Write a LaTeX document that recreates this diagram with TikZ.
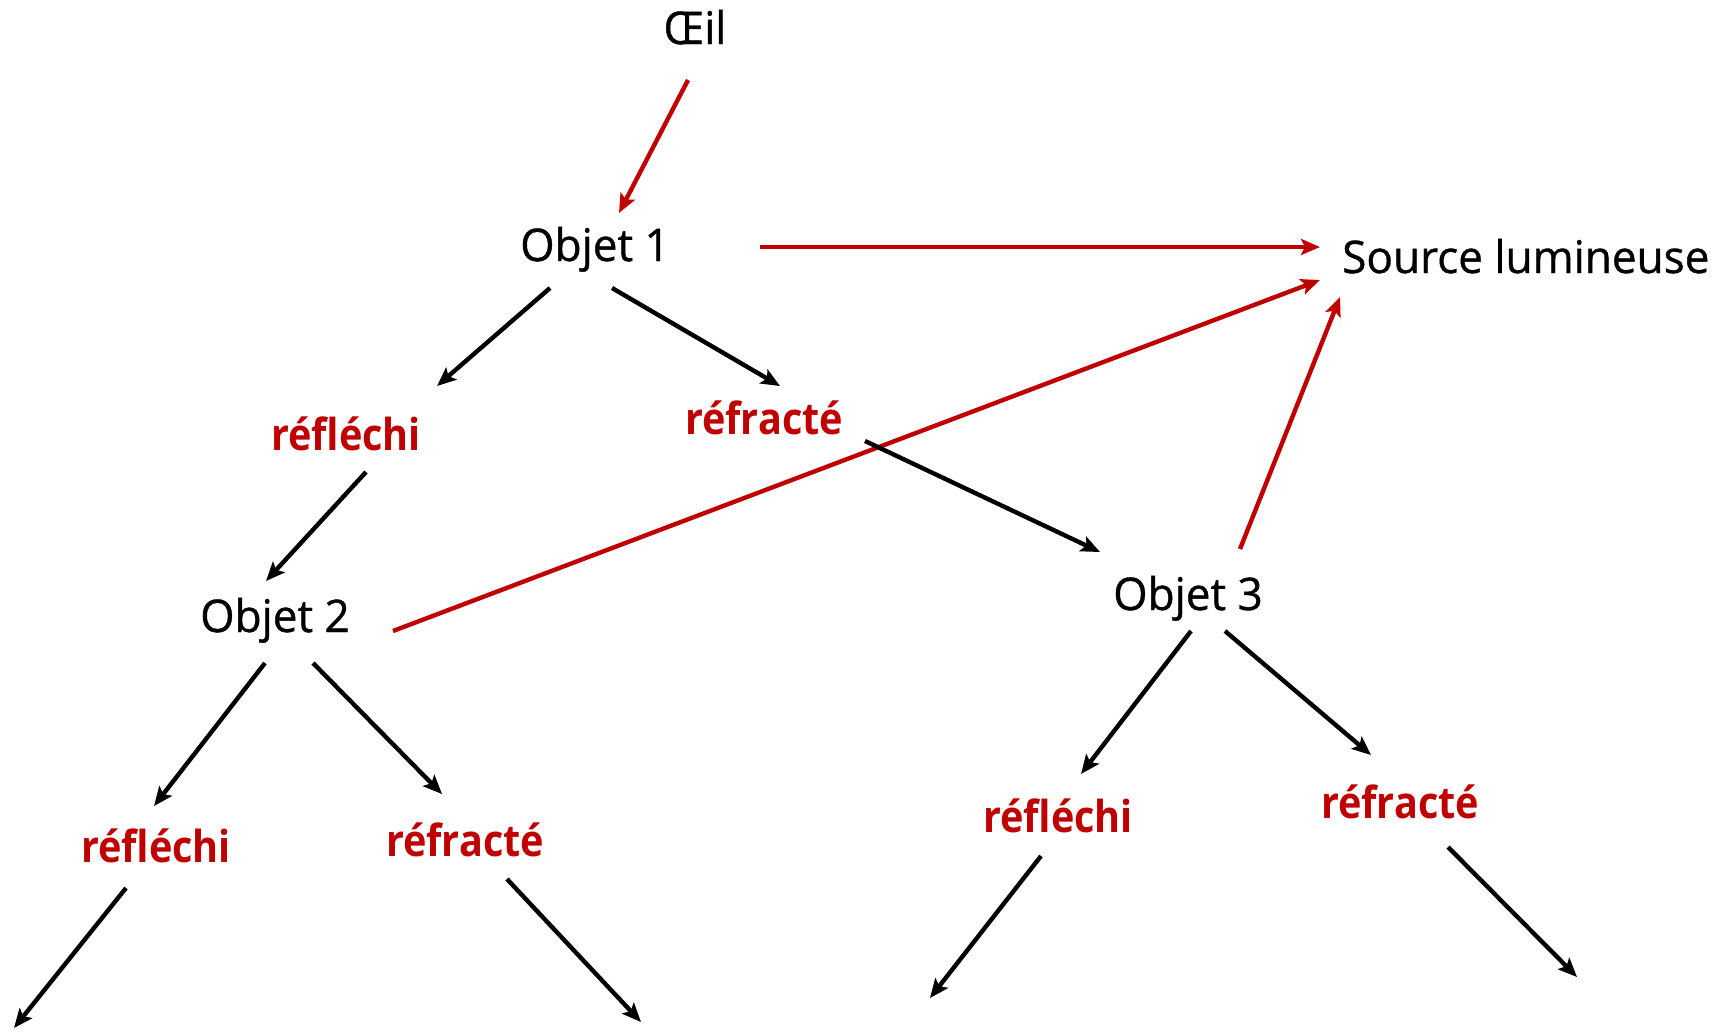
\documentclass[tikz,border=0pt]{standalone}
\usepackage{fontspec}
\setmainfont[FakeBold=0.8,FakeStretch=0.98]{Open Sans}
\newfontfamily\redfont[FakeStretch=0.9]{Open Sans}
\usetikzlibrary{arrows.meta,calc}
\definecolor{darkred}{RGB}{192,0,0}
\tikzset{
  blk/.style={anchor=base,inner sep=0pt,font=\fontsize{45}{50}\selectfont,text=black},
  lbl/.style={anchor=base,inner sep=0pt,font=\redfont\bfseries\fontsize{44}{50}\selectfont,text=darkred},
  arr/.style={line width=4.4pt,-{Stealth[length=19pt,width=16pt,inset=4pt]}},
  redarr/.style={arr,draw=darkred},
  blkarr/.style={arr,draw=black},
}
\begin{document}
\begin{tikzpicture}[x=1pt,y=-1pt]
\useasboundingbox (0,0) rectangle (1729,1031);
\node[blk] (eye) at (695,44) {Œil};
\node[blk] (o1) at (595,261) {Objet 1};
\node[blk,anchor=base west] (src) at (1342,273) {Source lumineuse};
\node[lbl] (r1) at (346,450) {réfléchi};
\node[lbl] (t1) at (764,434) {réfracté};
\node[blk] (o2) at (275,632) {Objet 2};
\node[blk] (o3) at (1188,610) {Objet 3};
\node[lbl] (r2) at (156,862) {réfléchi};
\node[lbl] (t2) at (465,856) {réfracté};
\node[lbl] (r3) at (1058,832) {réfléchi};
\node[lbl] (t3) at (1400,818) {réfracté};
\coordinate (e1) at (14,1028);
\coordinate (e2) at (641,1022);
\coordinate (e3) at (930,998);
\coordinate (e4) at (1577,977);
% red
\draw[redarr] ($(eye.base)+(-7,36)$) -- ($(o1.base)+(24,-48)$);
\draw[redarr] ($(o1.base)+(165,-14)$) -- ($(src.base west)+(-22,-26)$);
\draw[redarr] ($(o2.base)+(118,-1)$) -- ($(src.base west)+(-22,7)$);
\draw[redarr] ($(o3.base)+(52,-61)$) -- ($(src.base west)+(-2,24)$);
% black
\draw[blkarr] ($(o1.base)+(-45,27)$) -- ($(r1.base)+(91,-64)$);
\draw[blkarr] ($(o1.base)+(17,27)$) -- ($(t1.base)+(16,-48)$);
\draw[blkarr] ($(r1.base)+(20,22)$) -- ($(o2.base)+(-9,-51)$);
\draw[blkarr] ($(t1.base)+(101,7)$) -- ($(o3.base)+(-88,-58)$);
\draw[blkarr] ($(o2.base)+(-10,31)$) -- ($(r2.base)+(-2,-56)$);
\draw[blkarr] ($(o2.base)+(38,31)$) -- ($(t2.base)+(-23,-62)$);
\draw[blkarr] ($(o3.base)+(3,21)$) -- ($(r3.base)+(23,-58)$);
\draw[blkarr] ($(o3.base)+(37,21)$) -- ($(t3.base)+(-29,-63)$);
\draw[blkarr] ($(r2.base)+(-30,26)$) -- (e1);
\draw[blkarr] ($(t2.base)+(42,23)$) -- (e2);
\draw[blkarr] ($(r3.base)+(-17,24)$) -- (e3);
\draw[blkarr] ($(t3.base)+(48,29)$) -- (e4);
\end{tikzpicture}
\end{document}
